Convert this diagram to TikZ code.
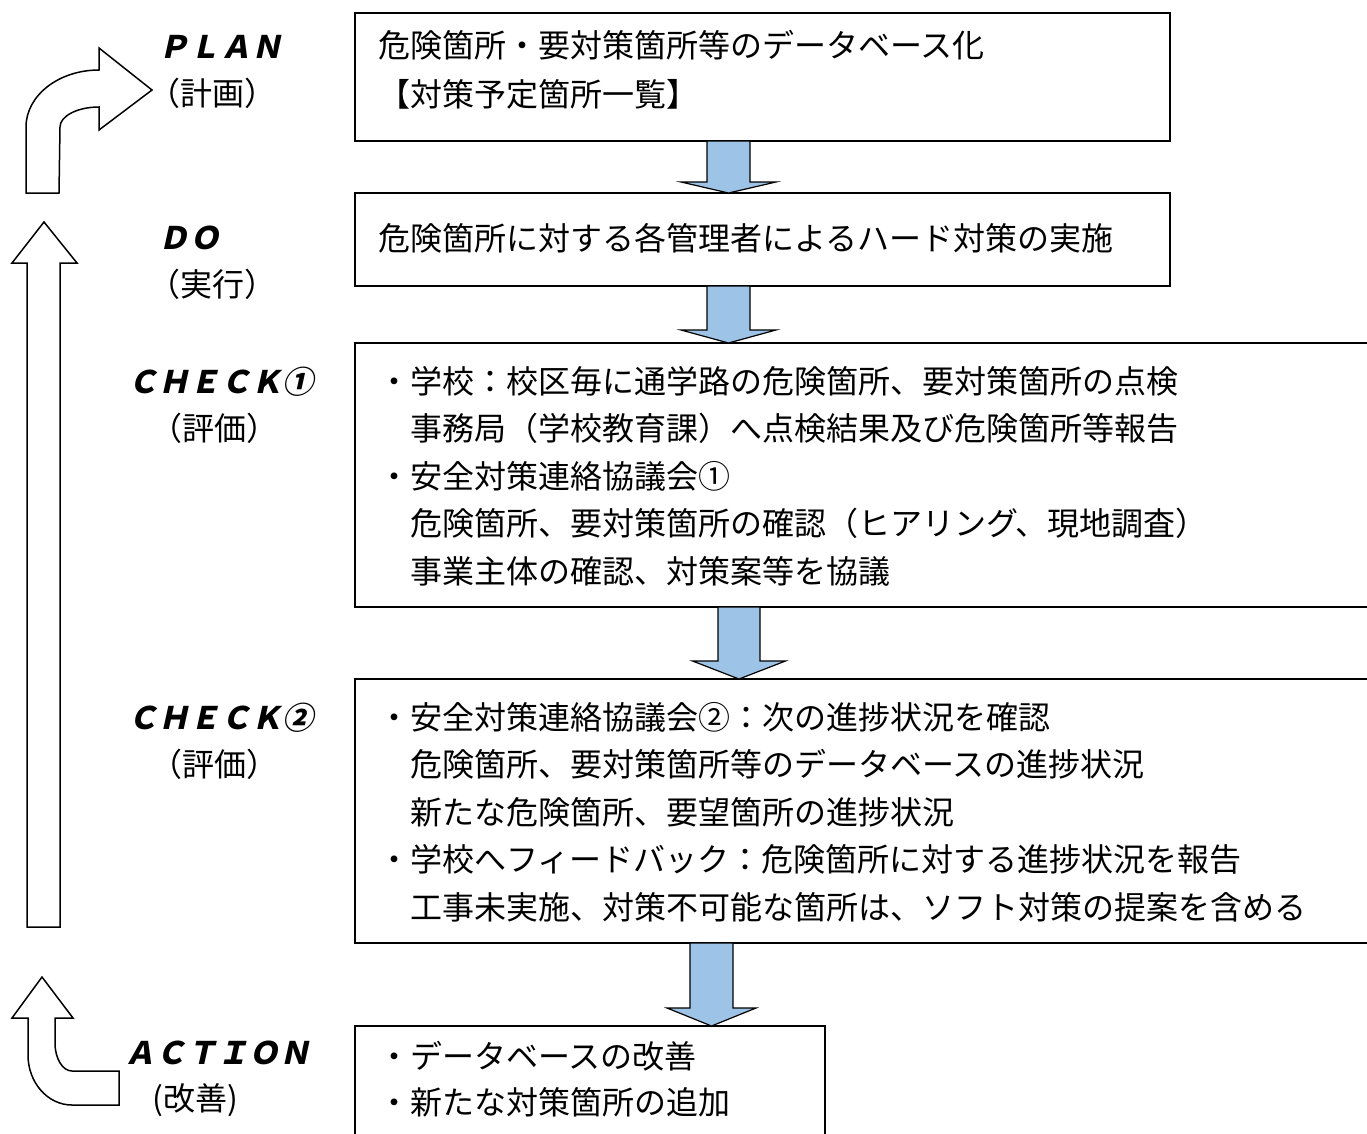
\documentclass[tikz,border=0pt]{standalone}
\usepackage{fontspec}
\setmainfont{Noto Sans CJK JP}
\newfontfamily\labfont[FakeSlant=0.22]{Noto Sans CJK JP}
\usetikzlibrary{calc}
\definecolor{arrowblue}{RGB}{157,195,230}
\newcommand\blockarr[6]{%
  \draw[flow] ($(#1 |- #2.south)+(-#4,0)$) -- ($(#1 |- #3.north)+(-#4,-#6)$)
    -- ($(#1 |- #3.north)+(-#5,-#6)$) -- (#1 |- #3.north)
    -- ($(#1 |- #3.north)+(#5,-#6)$) -- ($(#1 |- #3.north)+(#4,-#6)$)
    -- ($(#1 |- #2.south)+(#4,0)$) -- cycle;}
\begin{document}
\begin{tikzpicture}[x=1pt,y=-1pt,
  box/.style={draw=black, line width=1.8pt, inner sep=0pt, outer sep=0pt, anchor=north west},
  txt/.style={font=\fontsize{32}{48}\selectfont, inner sep=0pt, anchor=base west},
  lab/.style={font=\labfont\bfseries\fontsize{31}{31}\selectfont, inner sep=0pt, anchor=base west},
  sub/.style={font=\fontsize{32}{32}\selectfont, inner sep=0pt, anchor=base},
  flow/.style={draw=black, line width=1.2pt, fill=arrowblue, line join=miter},
  cyc/.style={draw=black, line width=1.5pt, fill=white, line join=miter}]
\useasboundingbox (0,0) rectangle (1367,1133);
\clip (0,0) rectangle (1367,1133);

% boxes
\node[box, minimum width=815pt, minimum height=128pt] (plan) at (355,13) {};
\node[box, minimum width=815pt, minimum height=93pt] (do) at (355,193) {};
\node[box, minimum width=1030pt, minimum height=264pt] (chk1) at (355,343) {};
\node[box, minimum width=1030pt, minimum height=264pt] (chk2) at (355,679) {};
\node[box, minimum width=470pt, minimum height=125pt] (act) at (355,1026) {};

% blue arrows between boxes
\coordinate (ax1) at (728.5,0);
\coordinate (ax3) at (739,0);
\coordinate (ax4) at (711.5,0);
\blockarr{ax1}{plan}{do}{21.5}{47.5}{11}
\blockarr{ax1}{do}{chk1}{21.5}{47.5}{13}
\blockarr{ax3}{chk1}{chk2}{21}{46.5}{18}
\blockarr{ax4}{chk2}{act}{21.5}{44.5}{18}

% box texts
\node[txt] (p1) at (378,57) {危険箇所・要対策箇所等のデータベース化};
\node[txt] (p2) at (378,106) {【対策予定箇所一覧】};
\node[txt] (d1) at (378,250) {危険箇所に対する各管理者によるハード対策の実施};
\node[txt] (c1a) at (378,393) {・学校：校区毎に通学路の危険箇所、要対策箇所の点検};
\node[txt] (c1b) at (378,440.5) {　事務局（学校教育課）へ点検結果及び危険箇所等報告};
\node[txt] (c1c) at (378,488) {・安全対策連絡協議会①};
\node[txt] (c1d) at (378,535.5) {　危険箇所、要対策箇所の確認（ヒアリング、現地調査）};
\node[txt] (c1e) at (378,583) {　事業主体の確認、対策案等を協議};
\node[txt] (c2a) at (378,729) {・安全対策連絡協議会②：次の進捗状況を確認};
\node[txt] (c2b) at (378,776.5) {　危険箇所、要対策箇所等のデータベースの進捗状況};
\node[txt] (c2c) at (378,824) {　新たな危険箇所、要望箇所の進捗状況};
\node[txt] (c2d) at (378,871.5) {・学校へフィードバック：危険箇所に対する進捗状況を報告};
\node[txt] (c2e) at (378,919) {　工事未実施、対策不可能な箇所は、ソフト対策の提案を含める};
\node[txt] (a1) at (378,1068) {・データベースの改善};
\node[txt] (a2) at (378,1114) {・新たな対策箇所の追加};

% stage labels
\node[lab] (lplan) at (158,58.5) {ＰＬＡＮ};
\node[sub] (splan) at (212,105) {（計画）};
\node[lab] (ldo) at (158,249.5) {ＤＯ};
\node[sub] (sdo) at (212,296) {（実行）};
\node[lab] (lc1) at (127,393.5) {ＣＨＥＣＫ①};
\node[sub] (sc1) at (214,440) {（評価）};
\node[lab] (lc2) at (127,729.5) {ＣＨＥＣＫ②};
\node[sub] (sc2) at (214,776) {（評価）};
\node[lab] (lact) at (124,1064.5) {ＡＣＴＩＯＮ};
\node[sub] (sact) at (195,1110) {(改善)};

% cycle arrows on the left
\draw[cyc] (26,193) -- (26,127) .. controls (26,95.5) and (58.7,70) .. (99,70)
  -- (99,48) -- (152,90) -- (99,130) -- (99,107)
  .. controls (77.5,107) and (60,116) .. (60,127) -- (59,193) -- cycle;
\draw[cyc] (27,927) -- (27,263) -- (12,263) -- (44,222) -- (77,263) -- (60,263) -- (60,927) -- cycle;
\draw[cyc] (119,1105) -- (72,1105) .. controls (47.7,1105) and (28,1082.6) .. (28,1055)
  -- (28,1018) -- (12,1018) -- (42,977) -- (73,1018) -- (55,1018) -- (55,1043)
  .. controls (55,1058.5) and (62.6,1071) .. (72,1071) -- (119,1071) -- cycle;
\end{tikzpicture}
\end{document}
